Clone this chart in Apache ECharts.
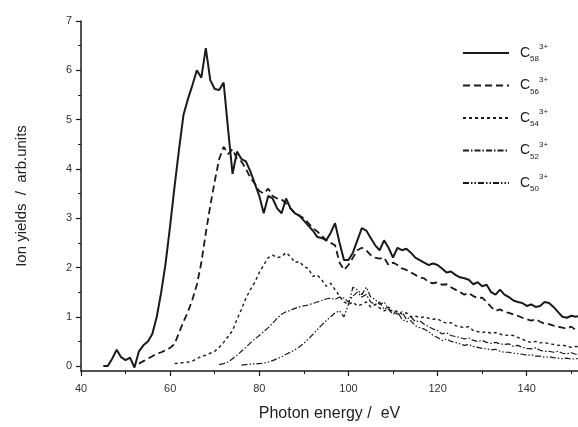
<!DOCTYPE html>
<html>
<head>
<meta charset="utf-8">
<script src="https://cdn.jsdelivr.net/npm/echarts@6/dist/echarts.min.js"></script>
<style>
  html, body { margin: 0; padding: 0; background: #fff; }
  #chart { width: 578px; height: 427px; }
</style>
</head>
<body>
<div id="chart"></div>
<script>
// photon energy, eV
const energy = [
  45, 46, 47, 48, 49, 50, 51, 52, 53, 54,
  55, 56, 57, 58, 59, 60, 61, 62, 63, 64,
  65, 66, 67, 68, 69, 70, 71, 72, 73, 74,
  75, 76, 77, 78, 79, 80, 81, 82, 83, 84,
  85, 86, 87, 88, 89, 90, 91, 92, 93, 94,
  95, 96, 97, 98, 99, 100, 101, 102, 103, 104,
  105, 106, 107, 108, 109, 110, 111, 112, 113, 114,
  115, 116, 117, 118, 119, 120, 121, 122, 123, 124,
  125, 126, 127, 128, 129, 130, 131, 132, 133, 134,
  135, 136, 137, 138, 139, 140, 141, 142, 143, 144,
  145, 146, 147, 148, 149, 150, 151, 152
];

// ion yields (arb. units), one value per energy
const c58 = [
  0.0, 0.0, 0.15, 0.33, 0.18, 0.12, 0.17, -0.03, 0.3, 0.42,
  0.5, 0.65, 1.0, 1.5, 2.1, 2.85, 3.65, 4.4, 5.1, 5.42,
  5.7, 6.0, 5.85, 6.45, 5.8, 5.62, 5.6, 5.75, 4.8, 3.9,
  4.35, 4.2, 4.15, 3.95, 3.7, 3.45, 3.1, 3.45, 3.4, 3.2,
  3.1, 3.4, 3.2, 3.1, 3.05, 2.95, 2.85, 2.75, 2.62, 2.6,
  2.55, 2.7, 2.9, 2.5, 2.15, 2.15, 2.3, 2.55, 2.8, 2.75,
  2.6, 2.45, 2.35, 2.55, 2.4, 2.2, 2.4, 2.35, 2.38, 2.3,
  2.2, 2.15, 2.1, 2.05, 2.08, 2.05, 1.98, 1.9, 1.92, 1.85,
  1.8, 1.78, 1.75, 1.66, 1.7, 1.62, 1.65, 1.5, 1.45, 1.55,
  1.45, 1.4, 1.33, 1.3, 1.28, 1.22, 1.25, 1.2, 1.22, 1.3,
  1.28, 1.2, 1.1, 1.0, 0.98, 1.02, 1.0, 1.02
];
const c56 = [
  null, null, null, null, null, null, null, null, 0.05, 0.1,
  0.15, 0.2, 0.25, 0.28, 0.32, 0.37, 0.45, 0.68, 0.9, 1.1,
  1.35, 1.65, 2.1, 2.7, 3.25, 3.75, 4.2, 4.45, 4.3, 4.4,
  4.2, 4.15, 4.0, 3.82, 3.7, 3.55, 3.5, 3.6, 3.45, 3.4,
  3.38, 3.3, 3.2, 3.1, 3.05, 3.0, 2.9, 2.8, 2.73, 2.65,
  2.55, 2.5, 2.45, 2.1, 1.95, 2.05, 2.2, 2.35, 2.4, 2.35,
  2.25, 2.2, 2.18, 2.2, 2.05, 2.1, 2.05, 1.98, 1.95, 1.9,
  1.85, 1.8, 1.78, 1.7, 1.68, 1.7, 1.65, 1.66, 1.6, 1.55,
  1.5, 1.45, 1.48, 1.42, 1.38, 1.39, 1.3, 1.2, 1.12, 1.15,
  1.1, 1.08, 1.05, 1.02, 0.98, 0.95, 0.92, 0.95, 0.9, 0.86,
  0.85, 0.82, 0.8, 0.78, 0.76, 0.8, 0.73, 0.72
];
const c54 = [
  null, null, null, null, null, null, null, null, null, null,
  null, null, null, null, null, null, 0.05, 0.06, 0.07, 0.08,
  0.1, 0.15, 0.2, 0.22, 0.26, 0.3, 0.38, 0.48, 0.6, 0.72,
  0.95, 1.15, 1.38, 1.55, 1.7, 1.9, 2.05, 2.2, 2.25, 2.2,
  2.22, 2.3, 2.22, 2.1, 2.12, 2.02, 1.98, 1.82, 1.85, 1.75,
  1.62, 1.68, 1.55, 1.42, 1.3, 1.25, 1.3, 1.22, 1.25, 1.3,
  1.2, 1.25, 1.18, 1.12, 1.15, 1.1, 1.12, 1.05, 1.08, 1.0,
  1.02, 0.98, 1.0, 0.97, 0.95, 0.96, 0.9, 0.87, 0.88, 0.82,
  0.8, 0.78, 0.8, 0.72, 0.7, 0.68, 0.7, 0.66, 0.68, 0.65,
  0.62, 0.63, 0.62, 0.58, 0.55, 0.5, 0.48, 0.5, 0.47, 0.48,
  0.45, 0.44, 0.42, 0.43, 0.4, 0.38, 0.4, 0.38
];
const c52 = [
  null, null, null, null, null, null, null, null, null, null,
  null, null, null, null, null, null, null, null, null, null,
  null, null, null, null, null, null, 0.03, 0.05, 0.08, 0.15,
  0.22, 0.3, 0.38, 0.47, 0.55, 0.62, 0.7, 0.78, 0.87, 0.97,
  1.05, 1.1, 1.13, 1.17, 1.2, 1.22, 1.24, 1.27, 1.3, 1.33,
  1.36, 1.38, 1.35, 1.4, 1.38, 1.3, 1.42, 1.5, 1.4, 1.45,
  1.3, 1.25, 1.3, 1.15, 1.2, 1.1, 1.05, 1.1, 0.95, 1.0,
  0.9, 0.92, 0.85, 0.8, 0.75, 0.72, 0.65, 0.68, 0.62, 0.6,
  0.58, 0.55, 0.57, 0.52, 0.5, 0.52, 0.48, 0.46, 0.48, 0.45,
  0.44, 0.45, 0.4, 0.42, 0.38, 0.36, 0.35, 0.37, 0.32, 0.3,
  0.3, 0.28, 0.3, 0.26, 0.25, 0.27, 0.24, 0.25
];
const c50 = [
  null, null, null, null, null, null, null, null, null, null,
  null, null, null, null, null, null, null, null, null, null,
  null, null, null, null, null, null, null, null, null, null,
  null, 0.02, 0.03, 0.04, 0.05, 0.05, 0.06, 0.08, 0.11, 0.15,
  0.19, 0.24, 0.28, 0.33, 0.39, 0.46, 0.55, 0.64, 0.74, 0.83,
  0.92, 1.0, 1.08, 1.12, 1.0, 1.25, 1.6, 1.55, 1.45, 1.6,
  1.4, 1.35, 1.25, 1.3, 1.15, 1.05, 1.1, 0.95, 0.9, 0.92,
  0.82, 0.78, 0.75, 0.7, 0.62, 0.58, 0.52, 0.55, 0.5, 0.48,
  0.45, 0.42, 0.44, 0.4, 0.38, 0.36, 0.35, 0.33, 0.34, 0.3,
  0.28, 0.28, 0.26, 0.25, 0.24, 0.22, 0.23, 0.2, 0.2, 0.18,
  0.19, 0.17, 0.16, 0.15, 0.16, 0.14, 0.15, 0.15
];

const seriesNames = ['C58', 'C56', 'C54', 'C52', 'C50'];
const seriesValues = [c58, c56, c54, c52, c50];

// tick labels
const xTicks = [40, 60, 80, 100, 120, 140];
const xMinorTicks = [50, 70, 90, 110, 130, 150];
const yTicks = [0, 1, 2, 3, 4, 5, 6, 7];
const yMinorTicks = [0.5, 1.5, 2.5, 3.5, 4.5, 5.5, 6.5];

const FONT = '"Liberation Sans", Arial, sans-serif';
const INK = '#1a1a1a';

const lineStyles = [
  { width: 2, type: 'solid' },
  { width: 1.8, type: [7, 4] },
  { width: 1.4, type: [3, 3] },
  { width: 1.2, type: [6, 2, 1.5, 2] },
  { width: 1.2, type: [6, 2, 1.5, 2, 1.5, 2] }
];

function pairs (vals) {
  return energy.map((e, i) => [e, vals[i]]);
}

const chart = echarts.init(document.getElementById('chart'), null, { renderer: 'canvas' });

chart.setOption({
  animation: false,
  backgroundColor: '#fff',
  textStyle: { fontFamily: FONT },
  grid: { left: 81, right: 0, top: 21, bottom: 52, containLabel: false },
  legend: {
    orient: 'vertical',
    left: 457,
    top: 38,
    itemWidth: 46,
    itemHeight: 12,
    itemGap: 12.5,
    selectedMode: false,
    data: seriesNames,
    // only the line in the key, no marker
    itemStyle: { opacity: 0, borderWidth: 0 },
    formatter: name => '{c|C}{sub|' + name.slice(1) + '}{sup|3+}',
    textStyle: {
      color: INK,
      rich: {
        c: { fontSize: 14, lineHeight: 20, padding: [0, 0, 0, 6], fontFamily: FONT, color: INK },
        sub: { fontSize: 8, lineHeight: 8, verticalAlign: 'bottom', fontFamily: FONT, color: INK },
        sup: { fontSize: 8, lineHeight: 12, verticalAlign: 'top', fontFamily: FONT, color: INK }
      }
    }
  },
  xAxis: [
    {
      type: 'value',
      position: 'bottom',
      min: 40,
      max: 151.5,
      name: 'Photon energy /  eV',
      nameLocation: 'middle',
      nameGap: 35,
      nameTextStyle: { fontSize: 16, color: '#222', fontFamily: FONT },
      axisLine: { onZero: false, lineStyle: { color: INK, width: 1.5 } },
      axisTick: { customValues: xTicks, length: 5, lineStyle: { color: INK, width: 1.2 } },
      axisLabel: { customValues: xTicks, margin: 12, fontSize: 11, color: '#333', fontFamily: FONT },
      splitLine: { show: false }
    },
    {
      type: 'value',
      position: 'bottom',
      min: 40,
      max: 151.5,
      axisLine: { show: false, onZero: false },
      axisTick: { customValues: xMinorTicks, length: 3, lineStyle: { color: INK, width: 1 } },
      axisLabel: { show: false },
      splitLine: { show: false }
    }
  ],
  yAxis: [
    {
      type: 'value',
      position: 'left',
      min: -0.1,
      max: 7,
      name: 'Ion yields  /  arb.units',
      nameLocation: 'middle',
      nameGap: 52,
      nameTextStyle: { fontSize: 15, color: '#222', fontFamily: FONT },
      axisLine: { show: true, onZero: false, lineStyle: { color: INK, width: 1.5 } },
      axisTick: { customValues: yTicks, length: 5, lineStyle: { color: INK, width: 1.2 } },
      axisLabel: { customValues: yTicks, margin: 9, fontSize: 11, color: '#333', fontFamily: FONT },
      splitLine: { show: false }
    },
    {
      type: 'value',
      position: 'left',
      min: -0.1,
      max: 7,
      axisLine: { show: false, onZero: false },
      axisTick: { customValues: yMinorTicks, length: 3, lineStyle: { color: INK, width: 1 } },
      axisLabel: { show: false },
      splitLine: { show: false }
    }
  ],
  series: seriesNames.map((name, i) => ({
    name: name,
    type: 'line',
    xAxisIndex: 0,
    yAxisIndex: 0,
    data: pairs(seriesValues[i]),
    symbol: 'none',
    clip: true,
    connectNulls: false,
    lineStyle: Object.assign({ color: INK }, lineStyles[i]),
    itemStyle: { color: INK }
  }))
});
</script>
</body>
</html>
